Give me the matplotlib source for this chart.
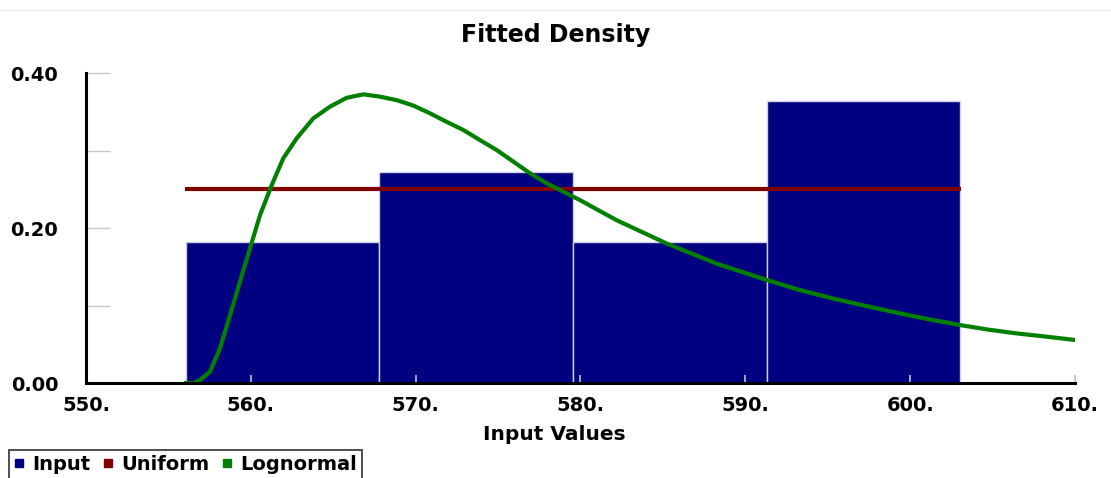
import numpy as np
import matplotlib.pyplot as plt
from matplotlib.lines import Line2D

# Histogram of the input values (relative frequency per bin)
bin_edges = [556.07, 567.8, 579.55, 591.3, 603.05]
bin_heights = [0.1818, 0.2727, 0.1818, 0.3636]

# Fitted uniform density
uniform_x = [556.0, 603.1]
uniform_y = [0.25, 0.25]

# Fitted lognormal density
logn_x = [556.07, 556.5, 556.92, 557.52, 558.13, 558.74, 559.34, 559.95,
          560.56, 561.27, 561.97, 562.78, 563.79, 564.8, 565.81, 566.83,
          567.84, 568.85, 569.86, 570.87, 571.88, 572.89, 573.9, 574.92,
          575.93, 576.94, 577.95, 578.96, 579.97, 582.2, 585.23, 588.26,
          591.3, 593.3, 595.34, 597.4, 599.39, 601.2, 603.03, 604.7,
          606.47, 608.2, 610.0]
logn_y = [0.0, 0.0, 0.004, 0.0146, 0.0447, 0.0877, 0.1307, 0.1738,
          0.2168, 0.2555, 0.290, 0.3157, 0.3415, 0.3566, 0.368, 0.3725,
          0.3695, 0.365, 0.358, 0.348, 0.337, 0.3265, 0.3135, 0.3006,
          0.2856, 0.2706, 0.2577, 0.2469, 0.236, 0.210, 0.180, 0.154,
          0.133, 0.120, 0.109, 0.099, 0.0898, 0.082, 0.0748, 0.069,
          0.064, 0.060, 0.0555]

NAVY = '#000080'
DARKRED = '#800000'
GREEN = '#008000'

fig = plt.figure(figsize=(11.11, 4.78), dpi=100)
ax = fig.add_axes([0.0774, 0.1987, 0.8902, 0.6485])

# Bars
widths = np.diff(bin_edges)
ax.bar(bin_edges[:-1], bin_heights, width=widths, align='edge',
       color=NAVY, edgecolor='#d0d0e8', linewidth=1)

# Fitted lines
ax.plot(uniform_x, uniform_y, color=DARKRED, lw=3, solid_capstyle='butt')
ax.plot(logn_x, logn_y, color=GREEN, lw=3, solid_joinstyle='round')

ax.set_xlim(550, 610)
ax.set_ylim(0, 0.40)

# Spines
for s in ['top', 'right']:
    ax.spines[s].set_visible(False)
for s in ['left', 'bottom']:
    ax.spines[s].set_linewidth(2.2)
    ax.spines[s].set_color('black')

# Ticks
xt = np.arange(550, 611, 10)
ax.set_xticks(xt)
ax.set_xticklabels([f'{int(v)}.' for v in xt])
ax.set_yticks([0.0, 0.1, 0.2, 0.3, 0.4])
ax.set_yticklabels(['0.00', '', '0.20', '', '0.40'])
ax.tick_params(axis='y', direction='in', length=17, width=1, color='#c8c8c8',
               pad=20, labelsize=14)
ax.tick_params(axis='x', direction='in', length=6, width=1.2, color='#c0c0c0',
               pad=9, labelsize=14)
for lab in ax.get_xticklabels() + ax.get_yticklabels():
    lab.set_fontweight('bold')

# Title and x label centred on the figure
fig.text(0.5, 0.927, 'Fitted Density', ha='center', va='center',
         fontsize=17, fontweight='bold')
fig.text(0.499, 0.092, 'Input Values', ha='center', va='center',
         fontsize=14.5, fontweight='bold')

# Faint line along the top
fig.add_artist(Line2D([0, 1], [1 - 10 / 478] * 2, color='#e6e6e6', lw=1))

# Legend
handles = [Line2D([], [], marker='s', ls='none', color=c, markersize=5.5)
           for c in [NAVY, DARKRED, GREEN]]
leg = fig.legend(handles, ['Input', 'Uniform', 'Lognormal'], ncol=3,
                 loc='upper left', bbox_to_anchor=(0.008, 0.0586),
                 bbox_transform=fig.transFigure, frameon=True, fancybox=False,
                 framealpha=1, edgecolor='#404040', borderpad=0.25,
                 handlelength=0.5, handletextpad=0.45, columnspacing=0.65,
                 borderaxespad=0, prop={'weight': 'bold', 'size': 14})
leg.get_frame().set_linewidth(1.3)

fig.savefig('out.png', dpi=100)
